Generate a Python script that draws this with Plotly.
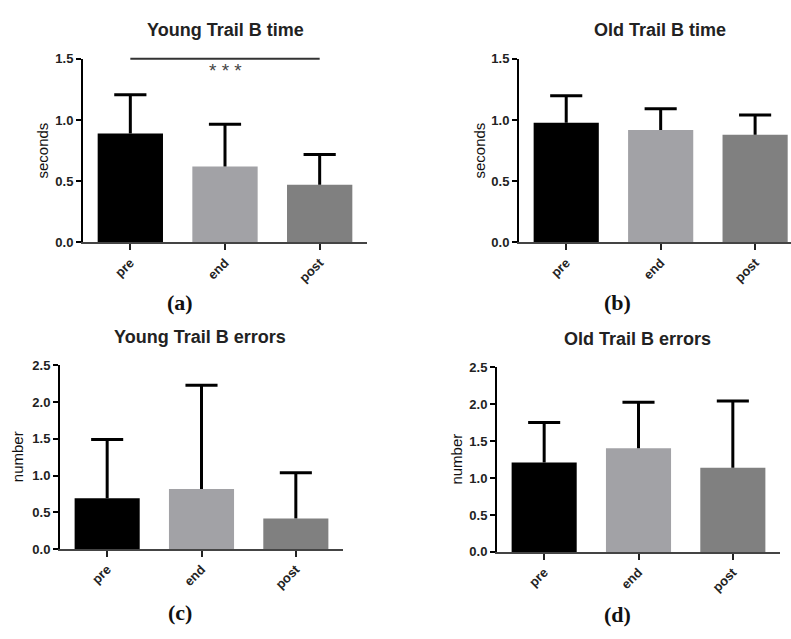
import plotly.graph_objects as go

categories = ["pre", "end", "post"]
bar_colors = ["#000000", "#a2a2a6", "#808080"]

young_time_mean = [0.89, 0.62, 0.47]
young_time_upper = [1.205, 0.965, 0.718]
old_time_mean = [0.978, 0.918, 0.880]
old_time_upper = [1.197, 1.091, 1.040]
young_err_mean = [0.69, 0.815, 0.416]
young_err_upper = [1.489, 2.229, 1.037]
old_err_mean = [1.21, 1.404, 1.139]
old_err_upper = [1.753, 2.027, 2.044]

titles = ["Young Trail B time", "Old Trail B time", "Young Trail B errors", "Old Trail B errors"]
ytitles = ["seconds", "seconds", "number", "number"]
labels = ["(a)", "(b)", "(c)", "(d)"]
yticks_time = [0.0, 0.5, 1.0, 1.5]
yticks_err = [0.0, 0.5, 1.0, 1.5, 2.0, 2.5]

W, H = 791, 639


def px(x):
    return x / W


def py(y):
    return (H - y) / H


# pixel boxes: left, right, top, bottom
boxes = [(83, 367, 53, 241), (519, 791, 53, 241), (60, 343, 367, 555), (497, 780, 369, 558)]
xranges = [[-0.5, 2.5], [-0.5, 2.38], [-0.5, 2.5], [-0.5, 2.5]]
means = [young_time_mean, old_time_mean, young_err_mean, old_err_mean]
uppers = [young_time_upper, old_time_upper, young_err_upper, old_err_upper]
yranges = [[0, 1.5], [0, 1.5], [0, 2.5], [0, 2.5]]
ytickss = [yticks_time, yticks_time, yticks_err, yticks_err]
title_pos = [(225, 24), (660, 24), (200, 338), (637, 340)]
label_pos = [(180, 303), (617, 303), (180, 620), (617, 622)]
ytitle_x = [43, 480, 17, 457]
CAP = 0.17

fig = go.Figure()
sans = "Liberation Sans, Arial, sans-serif"
xpos = list(range(len(categories)))
for i in range(4):
    xa = "x" if i == 0 else f"x{i+1}"
    ya = "y" if i == 0 else f"y{i+1}"
    m = means[i]
    u = uppers[i]
    fig.add_trace(go.Bar(
        x=xpos, y=m, xaxis=xa, yaxis=ya, width=0.69,
        marker=dict(color=bar_colors, line=dict(width=0)),
        showlegend=False, hoverinfo="skip",
    ))
    wx, wy = [], []
    for k in xpos:
        wx += [k, k, None, k - CAP, k + CAP, None]
        wy += [m[k], u[k], None, u[k], u[k], None]
    fig.add_trace(go.Scatter(
        x=wx, y=wy, xaxis=xa, yaxis=ya, mode="lines",
        line=dict(color="#000000", width=3), showlegend=False, hoverinfo="skip",
    ))
    l, r, t, b = boxes[i]
    xkey = "xaxis" if i == 0 else f"xaxis{i+1}"
    ykey = "yaxis" if i == 0 else f"yaxis{i+1}"
    fig.update_layout({
        xkey: dict(domain=[px(l), px(r)], anchor=ya, range=xranges[i],
                   tickvals=xpos, ticktext=categories,
                   showline=True, linecolor="#444444", linewidth=1.5,
                   ticks="outside", ticklen=6, tickwidth=2, tickcolor="#222222",
                   tickangle=-45, showgrid=False, zeroline=False,
                   tickfont=dict(family=sans, size=13, color="#222222", weight="bold")),
        ykey: dict(domain=[py(b), py(t)], anchor=xa, range=yranges[i],
                   tickvals=ytickss[i], tickformat=".1f",
                   showline=True, linecolor="#000000", linewidth=2,
                   ticks="outside", ticklen=5, tickwidth=2, tickcolor="#000000",
                   showgrid=False, zeroline=False,
                   tickfont=dict(family=sans, size=13, color="#222222", weight="bold")),
    })
    fig.add_annotation(text=titles[i], x=px(title_pos[i][0]), y=py(title_pos[i][1]),
                       xref="paper", yref="paper", showarrow=False, xanchor="center", yanchor="middle",
                       font=dict(family=sans, size=18, color="#222222", weight="bold"))
    fig.add_annotation(text=ytitles[i], x=px(ytitle_x[i]), y=py((t + b) / 2),
                       xref="paper", yref="paper", showarrow=False, textangle=-90,
                       xanchor="center", yanchor="middle",
                       font=dict(family=sans, size=15, color="#111111"))
    fig.add_annotation(text=labels[i], x=px(label_pos[i][0]), y=py(label_pos[i][1]),
                       xref="paper", yref="paper", showarrow=False, xanchor="center", yanchor="middle",
                       font=dict(family="Liberation Serif, DejaVu Serif, serif", size=22, color="#111111", weight="bold"))

# significance bar in panel (a)
fig.add_shape(type="line", xref="x", yref="y domain", x0=0, x1=2, y0=1, y1=1,
              line=dict(color="#333333", width=2))
fig.add_annotation(text="* * *", x=1, y=1.4, xref="x", yref="y", showarrow=False,
                   font=dict(family=sans, size=19, color="#444444"))

fig.update_layout(width=W, height=H, margin=dict(l=0, r=0, t=0, b=0),
                  paper_bgcolor="white", plot_bgcolor="white")
fig.write_html(
    "out.html",
    config={"displayModeBar": False},
    post_script="document.body.style.margin='0';document.body.style.overflow='hidden';"
                "document.documentElement.style.overflow='hidden';",
)
